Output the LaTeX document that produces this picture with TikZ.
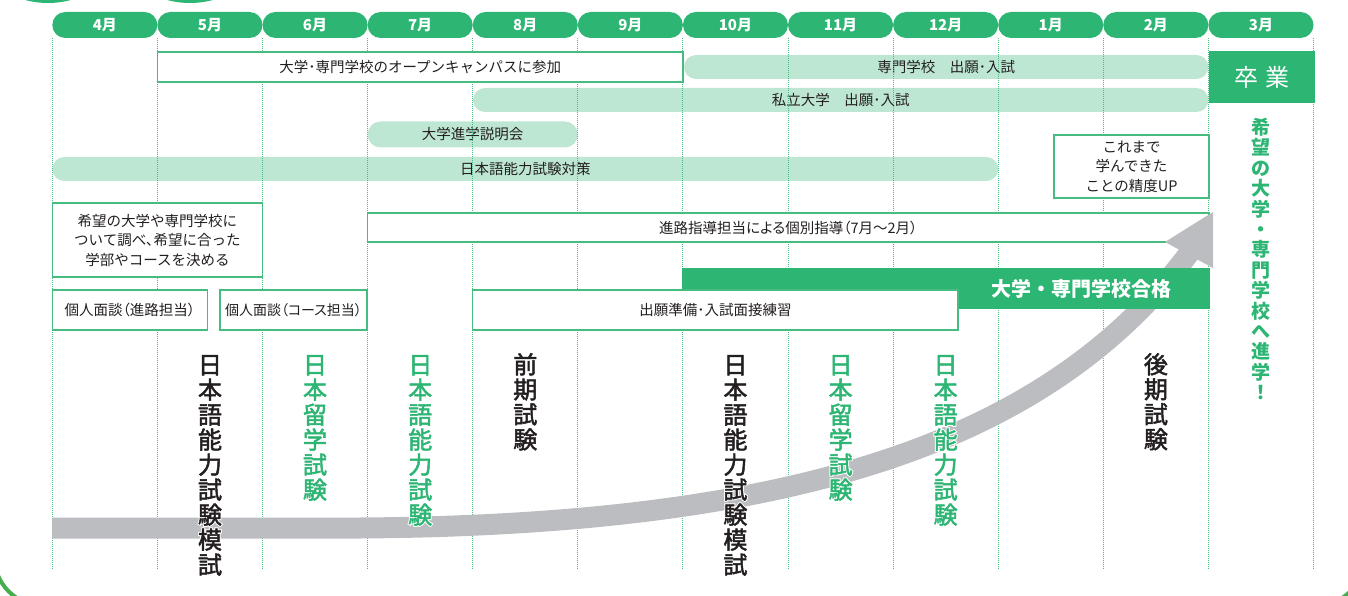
\documentclass[tikz,border=0pt]{standalone}
\usepackage{fontspec}
\setmainfont{Noto Sans CJK JP}
\newfontfamily\jpprop[RawFeature=+palt]{Noto Sans CJK JP}
\newfontfamily\jpmed[FakeBold=2]{Noto Sans CJK JP}
\newfontfamily\jphalo[FakeBold=10]{Noto Sans CJK JP}
\newcommand\haloch[1]{\rlap{\color{white}\jphalo #1}#1}
\definecolor{headgreen}{RGB}{44,181,115}
\definecolor{palegreen}{RGB}{190,231,211}
\definecolor{linegreen}{RGB}{70,188,128}
\definecolor{arrowgray}{RGB}{188,189,192}
\definecolor{inkblack}{RGB}{35,31,32}
\definecolor{framegreen}{RGB}{70,172,80}

\begin{document}
\begin{tikzpicture}[x=1pt, y=-1pt,
  month/.style={fill=headgreen, text=white, rounded corners=13pt, minimum width=105.1pt,
    minimum height=26pt, inner sep=0pt, outer sep=0pt, font=\bfseries\fontsize{15}{15}\selectfont},
  pill/.style={fill=palegreen, rounded corners=12pt, minimum height=24pt, inner sep=0pt,
    text=inkblack, font=\fontsize{14.5}{19.5}\selectfont},
  box/.style={draw=linegreen, line width=1.2pt, fill=white, inner sep=0pt, align=center,
    text=inkblack, font=\fontsize{14.5}{19.5}\selectfont},
  gridline/.style={linegreen, line width=1pt, dash pattern=on 1pt off 1pt},
  tate/.style={anchor=north, align=center, inner sep=0pt, font=\jpmed\fontsize{24}{25}\selectfont},
  ]
  \useasboundingbox (0,0) rectangle (1348,596);
  \clip (0,0) rectangle (1348,596);

  % frame and circles
  \draw[framegreen, line width=4pt, rounded corners=50pt] (-6,-100) rectangle (1365,606);
  \fill[headgreen] (48,-85) circle[radius=88pt];
  \fill[headgreen] (190,-85) circle[radius=88pt];

  % schedules (pale bars)
  \node[pill, minimum width=524.4pt] (senmon) at (946.2,67) {専門学校　出願･入試};
  \node[pill, minimum width=735.4pt] (shiritsu) at (840.7,100) {私立大学　出願･入試};
  \node[pill, minimum width=210.2pt, minimum height=26pt, rounded corners=13pt] (setsumei) at (472.7,134.5) {大学進学説明会};
  \node[pill, minimum width=945.9pt] (taisaku) at (525.3,169) {日本語能力試験対策};

  % month grid
  \foreach \i in {0,...,12}
    \draw[gridline] ({52.3+105.1*\i},38) -- ({52.3+105.1*\i},570);

  \matrix (months) at (682.9,25) [nodes={month}, column sep=0pt, inner sep=0pt]
  {
    \node (m4) {4月}; & \node (m5) {5月}; & \node (m6) {6月}; & \node (m7) {7月}; &
    \node (m8) {8月}; & \node (m9) {9月}; & \node (m10) {10月}; & \node (m11) {11月}; &
    \node (m12) {12月}; & \node (m1) {1月}; & \node (m2) {2月}; & \node (m3) {3月};\\
  };

  % boxes
  \node[box, minimum width=525.5pt, minimum height=30pt] (camp) at (420.2,67) {大学･専門学校のオープンキャンパスに参加};
  \node[box, minimum width=155pt, minimum height=63pt] (seido) at (1131.5,166.5) {これまで\\学んできた\\ことの精度UP};
  \node[box, minimum width=210.2pt, minimum height=74pt] (shirabe) at (157.4,240) {希望の大学や専門学校に\\ついて調べ､希望に合った\\学部やコースを決める};
  \node[box, minimum width=841.4pt, minimum height=29pt, font=\jpprop\fontsize{14.5}{19.5}\selectfont] (shidou) at (788.3,227.5) {進路指導担当による個別指導（7月～2月）};
  \node[box, minimum width=155pt, minimum height=40pt, font=\jpprop\fontsize{14.5}{19}\selectfont] (mendan1) at (129.8,310) {個人面談（進路担当）};
  \node[box, minimum width=147pt, minimum height=40pt, font=\jpprop\fontsize{14}{19}\selectfont] (mendan2) at (293.5,310) {個人面談（コース担当）};

  % rising arrow
  \coordinate (start) at (52,528);
  \coordinate (bend) at (360,528);
  \coordinate (goal) at (1190,252);
  \draw[arrowgray, line width=21pt] (start) -- (bend) .. controls (800,525) and (1050,440) .. (goal);
  \fill[arrowgray] (1165,242) -- (1213,212) -- (1213,268) -- cycle;

  \node[fill=headgreen, text=white, minimum height=41pt, text width=452pt, align=right,
    inner xsep=38pt, inner ysep=0pt, anchor=east, font=\bfseries\fontsize{20}{20}\selectfont]
    (gokaku) at (1210,288.5) {大学・専門学校合格};
  \node[box, minimum width=485.3pt, minimum height=40pt] (junbi) at (715.4,310) {出願準備･入試面接練習};
  \node[fill=headgreen, text=white, minimum width=106pt, minimum height=52pt, inner sep=0pt,
    font=\fontsize{24}{24}\selectfont] (sotsu) at (1262,77) {卒\hspace{0.3em}業};

  % exams
  \node[tate, text=inkblack] (mogi1) at (210,355) {\haloch{日}\\\haloch{本}\\\haloch{語}\\\haloch{能}\\\haloch{力}\\\haloch{試}\\\haloch{験}\\\haloch{模}\\\haloch{試}};
  \node[tate, text=headgreen] (eju1) at (315,355) {\haloch{日}\\\haloch{本}\\\haloch{留}\\\haloch{学}\\\haloch{試}\\\haloch{験}};
  \node[tate, text=headgreen] (jlpt1) at (420.2,355) {\haloch{日}\\\haloch{本}\\\haloch{語}\\\haloch{能}\\\haloch{力}\\\haloch{試}\\\haloch{験}};
  \node[tate, text=inkblack] (zenki) at (525.3,353) {前\\期\\試\\験};
  \node[tate, text=inkblack] (mogi2) at (735.4,355) {\haloch{日}\\\haloch{本}\\\haloch{語}\\\haloch{能}\\\haloch{力}\\\haloch{試}\\\haloch{験}\\\haloch{模}\\\haloch{試}};
  \node[tate, text=headgreen] (eju2) at (840.6,355) {\haloch{日}\\\haloch{本}\\\haloch{留}\\\haloch{学}\\\haloch{試}\\\haloch{験}};
  \node[tate, text=headgreen] (jlpt2) at (945.6,355) {\haloch{日}\\\haloch{本}\\\haloch{語}\\\haloch{能}\\\haloch{力}\\\haloch{試}\\\haloch{験}};
  \node[tate, text=inkblack] (kouki) at (1155.9,353) {後\\期\\試\\験};
  \node[tate, text=headgreen, font=\bfseries\fontsize{19}{20.4}\selectfont] (shingaku) at (1261,118) {希\\望\\の\\大\\学\\・\\専\\門\\学\\校\\へ\\進\\学\\！};
\end{tikzpicture}
\end{document}
